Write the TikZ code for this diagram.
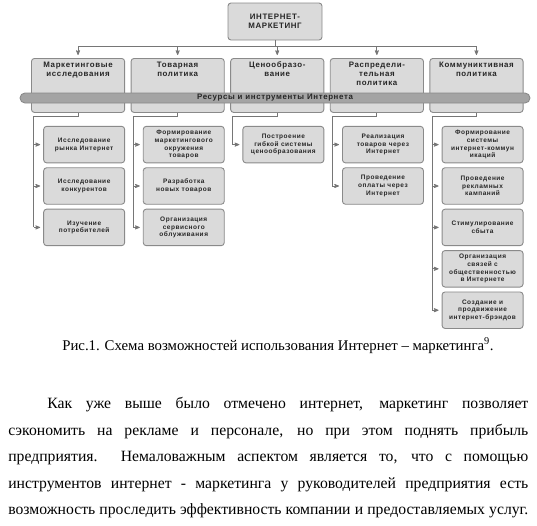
\documentclass[tikz,border=0pt]{standalone}
\usepackage{fontspec}
\setmainfont{Liberation Serif}
\newfontfamily\dgfont[LetterSpace=8]{Liberation Sans}
\usetikzlibrary{arrows,positioning}

\definecolor{boxfill}{HTML}{DADADA}
\definecolor{boxline}{HTML}{8A8A8A}
\definecolor{bandfill}{HTML}{A4A4A4}
\definecolor{linegray}{HTML}{767676}
\definecolor{txtgray}{HTML}{262626}

\begin{document}
\begin{tikzpicture}[x=1pt,y=-1pt,>=stealth',semithick]
	\tikzstyle{box}=[draw=boxline,fill=boxfill,rounded corners=3pt,line width=0.9pt,inner sep=1pt,align=center,text=txtgray]
	\tikzstyle{head}=[box,minimum width=93.2pt,minimum height=54pt,anchor=north west]
	\tikzstyle{headtext}=[anchor=north,align=center,inner sep=0pt,text=txtgray,font=\dgfont\bfseries\fontsize{7.9}{9.2}\selectfont]
	\tikzstyle{sub}=[box,minimum width=81pt,minimum height=36.5pt,font=\dgfont\bfseries\fontsize{6.5}{7.7}\selectfont]
	\tikzstyle{link}=[draw=linegray,line width=0.75pt]
	\tikzstyle{arr}=[link,->,shorten >=3pt]
	\tikzstyle{para}=[anchor=base west,inner sep=0pt,font=\fontsize{15.7}{18}\selectfont]

	\useasboundingbox (0,0) rectangle (537,525);

	% top box
	\node[box,minimum width=94pt,minimum height=37pt,font=\dgfont\bfseries\fontsize{7.9}{9.2}\selectfont] (web) at (275,21.5) {ИНТЕРНЕТ-\\МАРКЕТИНГ};

	% directions
	\node[head] (mr) at (31,58) {};
	\node[head,right=5.5pt of mr] (tp) {};
	\node[head,right=5.5pt of tp] (pr) {};
	\node[head,right=5.5pt of pr] (dp) {};
	\node[head,right=5.5pt of dp] (cp) {};

	\node[headtext] (mr-t) at ([yshift=-3.5pt]mr.north) {Маркетинговые\\исследования};
	\node[headtext] (tp-t) at ([yshift=-3.5pt]tp.north) {Товарная\\политика};
	\node[headtext] (pr-t) at ([yshift=-3.5pt]pr.north) {Ценообразо-\\вание};
	\node[headtext] (dp-t) at ([yshift=-3.5pt]dp.north) {Распредели-\\тельная\\политика};
	\node[headtext] (cp-t) at ([yshift=-3.5pt]cp.north) {Коммуниктивная\\политика};

	\foreach \d in {mr,tp,pr,dp,cp}
		\draw[arr] (web.south) -- ++(0,6) -| (\d.north);

	% band
	\node[draw=boxline,fill=bandfill,rounded corners=5pt,line width=0.9pt,minimum width=510pt,minimum height=10pt,inner sep=0pt,text=txtgray,font=\dgfont\bfseries\fontsize{7.9}{9.2}\selectfont] (res) at (275,98) {Ресурсы и инструменты Интернета};

	% marketing research
	\node[sub,anchor=north east] (mr1) at ([yshift=-13pt]mr.south east) {Исследование\\рынка Интернет};
	\node[sub,below=4pt of mr1] (mr2) {Исследование\\конкурентов};
	\node[sub,below=4pt of mr2] (mr3) {Изучение\\потребителей};

	% product policy
	\node[sub,anchor=north east] (tp1) at ([yshift=-13pt]tp.south east) {Формирование\\маркетингового\\окружения\\товаров};
	\node[sub,below=4pt of tp1] (tp2) {Разработка\\новых товаров};
	\node[sub,below=4pt of tp2] (tp3) {Организация\\сервисного\\облуживания};

	% pricing
	\node[sub,anchor=north east] (pr1) at ([yshift=-13pt]pr.south east) {Построение\\гибкой системы\\ценообразования};

	% distribution
	\node[sub,anchor=north east] (dp1) at ([yshift=-13pt]dp.south east) {Реализация\\товаров через\\Интернет};
	\node[sub,below=4pt of dp1] (dp2) {Проведение\\оплаты через\\Интернет};

	% communication
	\node[sub,anchor=north east] (cp1) at ([yshift=-13pt]cp.south east) {Формирование\\системы\\интернет-коммун\\икаций};
	\node[sub,below=4pt of cp1] (cp2) {Проведение\\рекламных\\кампаний};
	\node[sub,below=4pt of cp2] (cp3) {Стимулирование\\сбыта};
	\node[sub,below=4pt of cp3] (cp4) {Организация\\связей с\\общественностью\\в Интернете};
	\node[sub,below=4pt of cp4] (cp5) {Создание и\\продвижение\\интернет-брэндов};

	% trunks
	\foreach \d/\last in {mr/mr3,tp/tp3,pr/pr1,dp/dp2,cp/cp5} {
		\coordinate (\d-trunk) at ([xshift=2.5pt]\d.south west);
		\draw[link] (\d.south) -- ++(0,3) -| (\d-trunk |- \last.west);
	}
	\foreach \d/\s in {mr/mr1,mr/mr2,mr/mr3,tp/tp1,tp/tp2,tp/tp3,pr/pr1,dp/dp1,dp/dp2,cp/cp1,cp/cp2,cp/cp3,cp/cp4,cp/cp5}
		\draw[arr] (\d-trunk |- \s.west) -- (\s.west);

	% caption and text
	\node[para,font=\fontsize{14.8}{18}\selectfont] (cap) at (62,350) {Рис.1. Схема возможностей использования Интернет – маркетинга\textsuperscript{9}.};
	\node[para] (l1) at (47,408) {\makebox[481pt][s]{Как уже выше было отмечено интернет, маркетинг позволяет}};
	\node[para] (l2) at (8,435) {\makebox[520pt][s]{сэкономить на рекламе и персонале, но при этом поднять прибыль}};
	\node[para] (l3) at (8,461) {\makebox[520pt][s]{предприятия.\ \ Немаловажным аспектом является то, что с помощью}};
	\node[para] (l4) at (8,488) {\makebox[520pt][s]{инструментов интернет - маркетинга у руководителей предприятия есть}};
	\node[para] (l5) at (8,514) {\makebox[520pt][s]{возможность проследить эффективность компании и предоставляемых услуг.}};
\end{tikzpicture}
\end{document}
